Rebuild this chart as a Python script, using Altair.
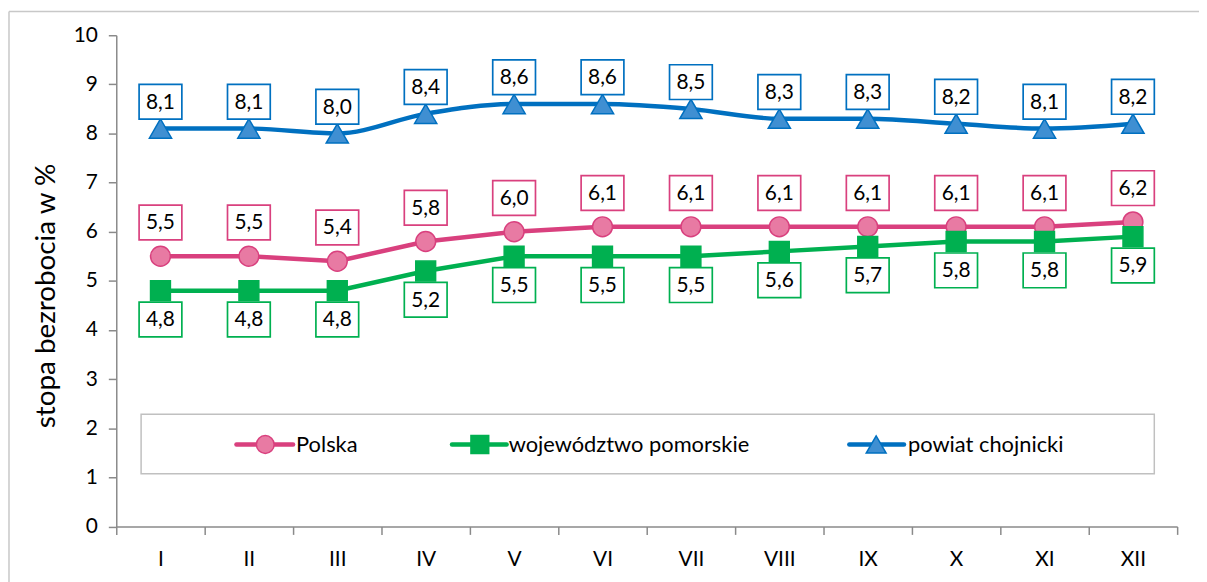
import altair as alt
import pandas as pd

# ---------------- data ----------------
months = ["I", "II", "III", "IV", "V", "VI", "VII", "VIII", "IX", "X", "XI", "XII"]
polska = [5.5, 5.5, 5.4, 5.8, 6.0, 6.1, 6.1, 6.1, 6.1, 6.1, 6.1, 6.2]
pomorskie = [4.8, 4.8, 4.8, 5.2, 5.5, 5.5, 5.5, 5.6, 5.7, 5.8, 5.8, 5.9]
chojnicki = [8.1, 8.1, 8.0, 8.4, 8.6, 8.6, 8.5, 8.3, 8.3, 8.2, 8.1, 8.2]
series_names = ["Polska", "województwo pomorskie", "powiat chojnicki"]
y_ticks = [0, 1, 2, 3, 4, 5, 6, 7, 8, 9, 10]
y_title = "stopa bezrobocia w %"

# ---------------- styles ----------------
FONT = "Lato"
FS = 21
LEG_FS = 22
TITLE_FS = 28
W, H = 1068, 494.5
AXIS_COLOR = "#8a8a8a"
LINE_W = 4.5
styles = {
    "Polska": dict(line="#d9407e", fill="#e87aa3", stroke="#d9407e", shape="circle", size=400,
                   interp="linear", off=-34),
    "województwo pomorskie": dict(line="#00b050", fill="#00b050", stroke="#00b050", shape="square",
                                  size=400, interp="linear", off=29),
    "powiat chojnicki": dict(line="#0070c0", fill="#3f8fd2", stroke="#0070c0", shape="triangle-up",
                             size=500, interp="monotone", off=-27),
}
BOX_PATH = "M-1.23,-1L1.23,-1L1.23,1L-1.23,1Z"

values = {"Polska": polska, "województwo pomorskie": pomorskie, "powiat chojnicki": chojnicki}
df = pd.DataFrame(
    [{"month": m, "series": s, "value": v} for s in series_names for m, v in zip(months, values[s])]
)

x_scale = alt.Scale(type="band", domain=months, paddingInner=0, paddingOuter=0)
y_scale = alt.Scale(domain=[0, 10], nice=False, zero=True)


def X(axis=None):
    if axis is None:
        return alt.X("month:N", sort=months, scale=x_scale, bandPosition=0.5)
    return alt.X("month:N", sort=months, scale=x_scale, bandPosition=0.5, axis=axis)


def Y(axis=None):
    if axis is None:
        return alt.Y("value:Q", scale=y_scale)
    return alt.Y("value:Q", scale=y_scale, axis=axis)


common_axis = dict(
    labelFont=FONT, labelFontSize=FS, labelColor="#000000", tickSize=8,
    tickColor=AXIS_COLOR, tickWidth=1.5, domainColor=AXIS_COLOR, domainWidth=1.5,
    titleFont=FONT, titleFontSize=TITLE_FS, titleFontWeight="normal", titleColor="#000000",
    grid=False,
)
x_axis = alt.Axis(title=None, tickBand="extent", labelAngle=0, labelPadding=14, **common_axis)
y_axis = alt.Axis(
    title=y_title, values=y_ticks, labelPadding=11, titlePadding=13,
    titleY=262, titleAlign="center", titleBaseline="bottom", **common_axis
)

one = pd.DataFrame({"k": [0]})

# outer frame (decoration): top and left edges
frame_top = alt.Chart(one).mark_rule(color="#c8c8c8", strokeWidth=1.5).encode(
    x=alt.value(-108), x2=alt.value(1120), y=alt.value(-24)
)
frame_left = alt.Chart(one).mark_rule(color="#c8c8c8", strokeWidth=1.5).encode(
    x=alt.value(-108), y=alt.value(-24), y2=alt.value(580)
)

# legend box (decoration)
legend_box = alt.Chart(one).mark_rect(fill="white", stroke="#c0c0c0", strokeWidth=1.5).encode(
    x=alt.value(25), x2=alt.value(1045), y=alt.value(381.5), y2=alt.value(441.5)
)

layers = [frame_top, frame_left, legend_box]

base = alt.Chart(df)
# axes carrier (invisible)
layers.append(
    base.mark_point(opacity=0).encode(x=X(x_axis), y=Y(y_axis))
)

for s in series_names:
    st = styles[s]
    d = base.transform_filter(alt.datum.series == s)
    layers.append(
        d.mark_line(color=st["line"], strokeWidth=LINE_W, interpolate=st["interp"]).encode(x=X(), y=Y())
    )
    layers.append(
        d.mark_point(shape=st["shape"], size=st["size"], filled=True, fill=st["fill"],
                     stroke=st["stroke"], strokeWidth=1.5, opacity=1).encode(x=X(), y=Y())
    )

for s in series_names:
    st = styles[s]
    d = base.transform_filter(alt.datum.series == s).transform_calculate(
        label="replace(format(datum.value, '.1f'), '.', ',')"
    )
    layers.append(
        d.mark_point(shape=BOX_PATH, size=35 * 35, filled=True, fill="white", stroke=st["line"],
                     strokeWidth=1.7, opacity=1, yOffset=st["off"]).encode(x=X(), y=Y())
    )
    layers.append(
        d.mark_text(font=FONT, fontSize=FS, color="#000000", baseline="middle", align="center",
                    yOffset=st["off"] + 1).encode(x=X(), y=Y(), text="label:N")
    )

# legend entries (decoration)
leg_pos = {"Polska": (121, 178, 150, 181),
           "województwo pomorskie": (338, 393, 366, 395),
           "powiat chojnicki": (738, 793, 765, 797)}
LEG_Y = 412
for s in series_names:
    st = styles[s]
    x1, x2, xm, xt = leg_pos[s]
    ld = alt.Chart(pd.DataFrame({"series": [s]}))
    layers.append(
        ld.mark_rule(color=st["line"], strokeWidth=LINE_W, strokeCap="round").encode(
            x=alt.value(x1), x2=alt.value(x2), y=alt.value(LEG_Y)
        )
    )
    layers.append(
        ld.mark_point(shape=st["shape"], size=st["size"] * 0.8, filled=True, fill=st["fill"],
                      stroke=st["stroke"], strokeWidth=1.5, opacity=1).encode(
            x=alt.value(xm), y=alt.value(LEG_Y)
        )
    )
    layers.append(
        ld.mark_text(font=FONT, fontSize=LEG_FS, color="#000000", align="left", baseline="middle").encode(
            x=alt.value(xt), y=alt.value(LEG_Y + 1), text="series:N"
        )
    )

chart = (
    alt.layer(*layers)
    .properties(width=W, height=H, autosize=alt.AutoSizeParams(type="none"),
                padding={"left": 109, "top": 25.5, "right": 22, "bottom": 54},
                background="white")
    .configure_view(strokeOpacity=0, stroke="transparent")
    .configure_axis(**common_axis)
)

chart.save("out.html", embed_options={"renderer": "svg", "actions": False})
